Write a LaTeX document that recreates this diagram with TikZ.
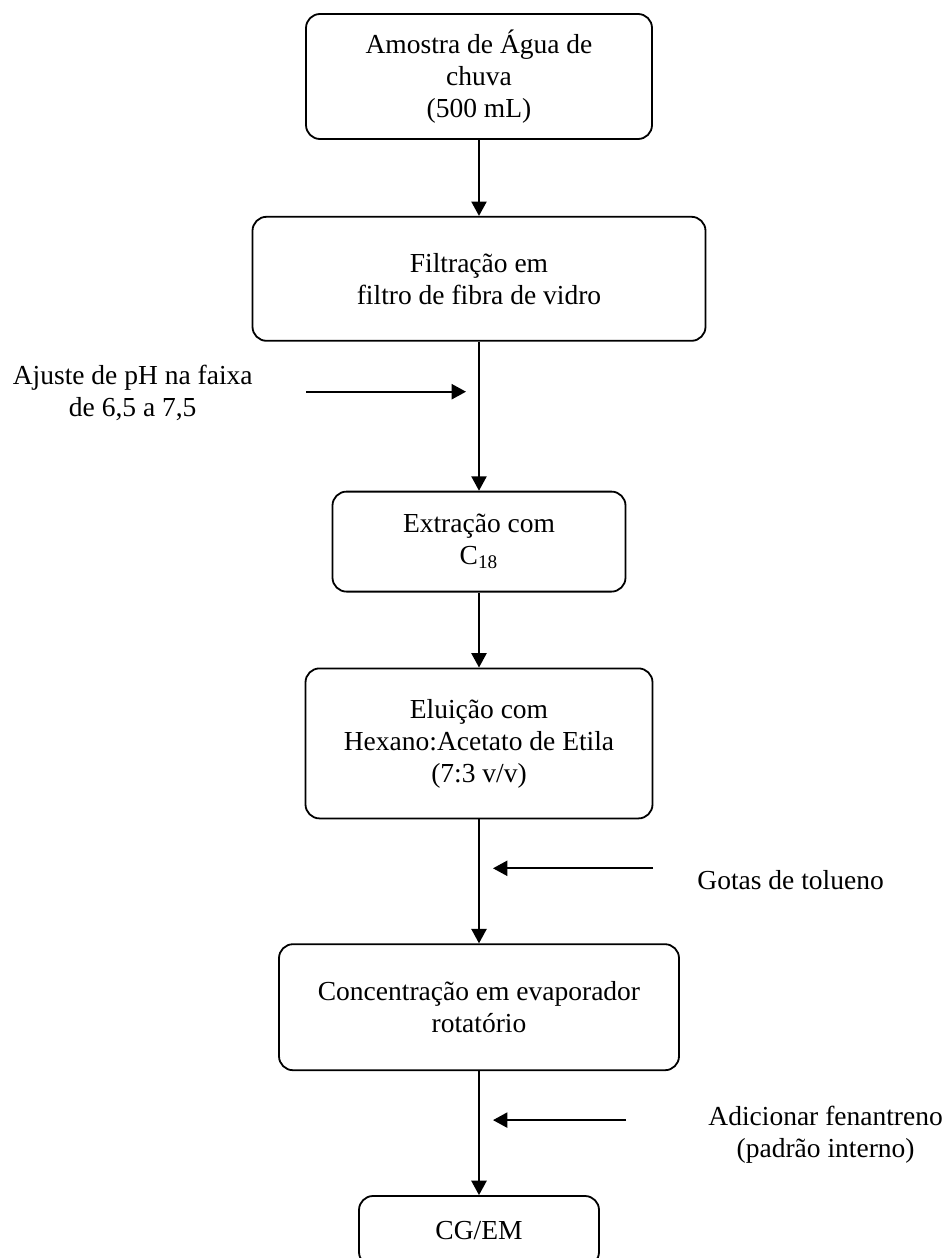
\documentclass[tikz,border=0pt]{standalone}
\usepackage{fontspec}
\setmainfont{Liberation Serif}
\usepackage{tikz}
\usetikzlibrary{arrows.meta, positioning, calc}
\tikzset{
  block/.style={
    rectangle, rounded corners=7pt,
    draw=black, line width=0.9pt,
    align=center, inner sep=2pt,
    font=\fontsize{13.75pt}{16pt}\selectfont
  },
  sidelabel/.style={
    inner sep=0pt, align=center,
    font=\fontsize{13.75pt}{16pt}\selectfont
  },
  arrow/.style={-{Triangle[length=7.2pt, width=7.6pt]}, line width=0.9pt, color=black},
}

\begin{document}
\begin{tikzpicture}[node distance=38pt]
  \useasboundingbox (0,0) rectangle (474pt,-629pt);

  \node[block, minimum width=173pt, minimum height=62.5pt] (amostra) at (239.5pt,-38.25pt)
    {Amostra de Água de\\chuva\\(500 mL)};
  \node[block, minimum width=226.5pt, minimum height=62pt, below=38pt of amostra] (filtracao)
    {Filtração em\\filtro de fibra de vidro};
  \node[block, minimum width=146.5pt, minimum height=50pt, below=74.5pt of filtracao] (extracao)
    {Extração com\\C\textsubscript{18}};
  \node[block, minimum width=173.5pt, minimum height=75pt, below=37.5pt of extracao] (eluicao)
    {Eluição com\\Hexano:Acetato de Etila\\(7:3 v/v)};
  \node[block, minimum width=200pt, minimum height=63pt, below=62pt of eluicao] (concentracao)
    {Concentração em evaporador\\rotatório};
  \node[block, minimum width=120pt, minimum height=35pt, below=62pt of concentracao] (cgem)
    {CG/EM};

  \draw[arrow] (amostra) -- (filtracao);
  \draw[arrow] (filtracao) -- (extracao);
  \draw[arrow] (extracao) -- (eluicao);
  \draw[arrow] (eluicao) -- (concentracao);
  \draw[arrow] (concentracao) -- (cgem);

  % entradas laterais
  \coordinate (ajuste-fim) at ($(filtracao.south)+(-6.5pt,-25pt)$);
  \coordinate (ajuste-ini) at ($(ajuste-fim)+(-80pt,0)$);
  \node[sidelabel, left=26.5pt of ajuste-ini, yshift=-0.8pt] (ajuste)
    {Ajuste de pH na faixa\\de 6,5 a 7,5};
  \draw[arrow] (ajuste-ini) -- (ajuste-fim);

  \coordinate (tolueno-fim) at ($(eluicao.south)+(7pt,-24.5pt)$);
  \coordinate (tolueno-ini) at ($(tolueno-fim)+(80pt,0)$);
  \node[sidelabel, right=22pt of tolueno-ini, yshift=-5.8pt] (tolueno)
    {Gotas de tolueno};
  \draw[arrow] (tolueno-ini) -- (tolueno-fim);

  \coordinate (fenantreno-fim) at ($(concentracao.south)+(7pt,-24.5pt)$);
  \coordinate (fenantreno-ini) at ($(fenantreno-fim)+(66.5pt,0)$);
  \node[sidelabel, right=41pt of fenantreno-ini, yshift=-7.3pt] (fenantreno)
    {Adicionar fenantreno\\(padrão interno)};
  \draw[arrow] (fenantreno-ini) -- (fenantreno-fim);
\end{tikzpicture}
\end{document}
